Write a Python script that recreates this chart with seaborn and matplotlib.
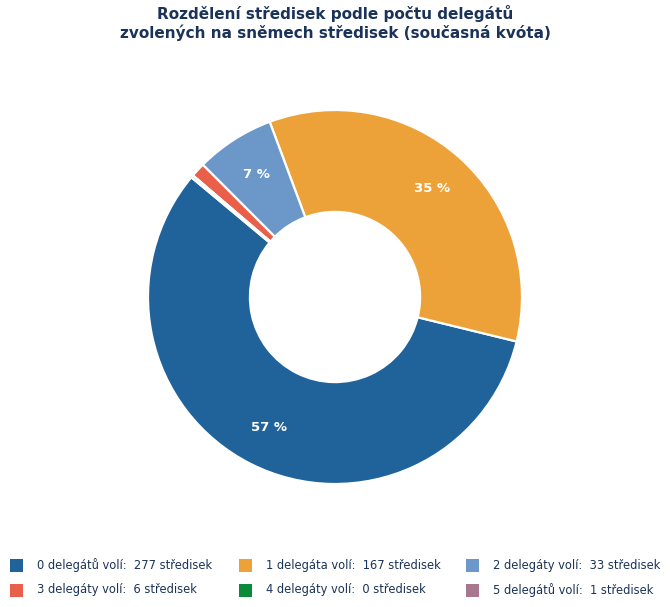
import numpy as np
import matplotlib
matplotlib.use("Agg")
import matplotlib.pyplot as plt
import matplotlib.patches as mpatches
import seaborn as sns

# Data
kategorie = ["0 delegátů volí", "1 delegáta volí", "2 delegáty volí",
             "3 delegáty volí", "4 delegáty volí", "5 delegátů volí"]
pocty = [277, 167, 33, 6, 0, 1]
barvy = ["#20639b", "#eda239", "#6c97c9", "#ea5f49", "#0b8a3a", "#a7778f"]

NAVY = "#1b3358"

sns.set_theme(style="white")
plt.rcParams['font.family'] = ['DejaVu Sans']

fig = plt.figure(figsize=(6.7, 6.07), dpi=100)
W, H = 670, 607

# Donut axes: center (335, 297), radius 187 px
cx, cy, r = 335, 297, 187
ax = fig.add_axes([(cx - r) / W, 1 - (cy + r) / H, 2 * r / W, 2 * r / H])

def fmt_pct(p):
    return f"{p:.0f} %" if p >= 5 else ""

wedges, texts, autotexts = ax.pie(
    pocty, colors=sns.color_palette(barvy), startangle=140.2, counterclock=True,
    radius=1.0, autopct=fmt_pct, pctdistance=0.78,
    wedgeprops=dict(width=0.545, edgecolor="white", linewidth=1.6),
    textprops=dict(color="white", fontsize=9.5, fontweight="bold"),
)
ax.set_xlim(-1.0, 1.0)
ax.set_ylim(-1.0, 1.0)
ax.set_aspect("equal")
ax.axis("off")

fig.text(0.5, 1 - 23 / H, "Rozdělení středisek podle počtu delegátů\n"
         "zvolených na sněmech středisek (současná kvóta)",
         ha="center", va="center", fontsize=11, fontweight="bold",
         color=NAVY, linespacing=1.15)

# Legend: 3 columns, 2 rows, fixed column width
col_x = [10, 239, 466]
row_y = [565, 590]
sq = 13
for i, (kat, n, c) in enumerate(zip(kategorie, pocty, barvy)):
    x0 = col_x[i % 3]
    y0 = row_y[i // 3]
    fig.patches.append(mpatches.Rectangle(
        (x0 / W, 1 - (y0 + sq / 2) / H), sq / W, sq / H,
        transform=fig.transFigure, facecolor=c, edgecolor="none"))
    fig.text((x0 + sq + 14) / W, 1 - y0 / H, f"{kat}:  {n} středisek",
             ha="left", va="center", fontsize=8.3, color=NAVY)

fig.savefig("out.png", dpi=100, facecolor="white")
